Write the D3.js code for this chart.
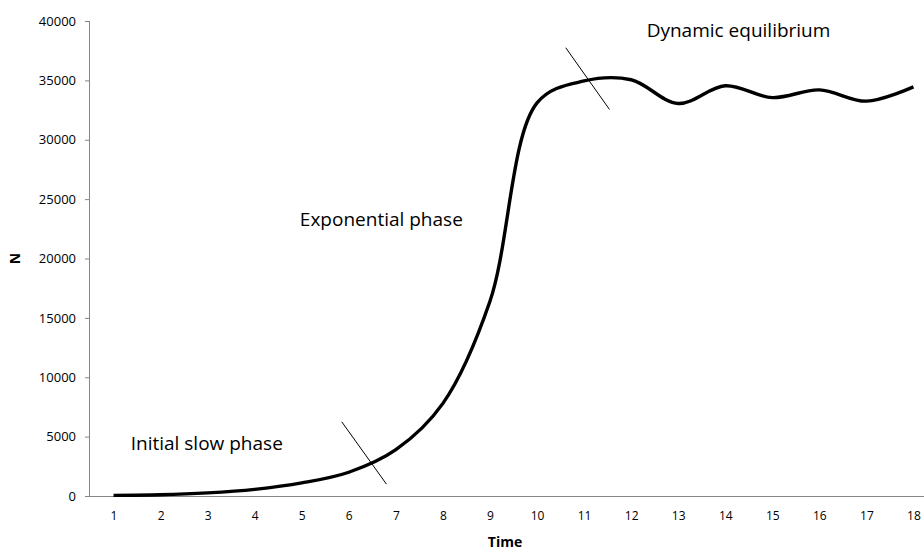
<!DOCTYPE html>
<html><head><meta charset="utf-8">
<script src="https://cdn.jsdelivr.net/npm/d3@7/dist/d3.min.js"></script>
<style>
html,body{margin:0;padding:0;background:#fff;}
svg{display:block;}
</style></head>
<body>
<svg id="chart" width="924" height="554"></svg>
<script>
const times = [1,2,3,4,5,6,7,8,9,10,11,12,13,14,15,16,17,18];
const nValues = [50,100,260,560,1100,2000,3900,7800,16400,33100,34950,35050,33050,34550,33550,34200,33250,34450];
const yTicks = [0,5000,10000,15000,20000,25000,30000,35000,40000];
const phaseLabels = [
  {text:"Initial slow phase", t:1.365, n:3870},
  {text:"Exponential phase", t:4.96, n:22740},
  {text:"Dynamic equilibrium", t:12.33, n:38650}
];
const dividers = [
  {t1:5.85, n1:6250, t2:6.80, n2:1000},
  {t1:10.61, n1:37750, t2:11.54, n2:32550}
];

const svg = d3.select("#chart");
const x = d3.scaleLinear().domain([0.5, 18.5]).range([90, 937]);
const y = d3.scaleLinear().domain([0, 40000]).range([496, 21]);
const axisColor = "#868686";

// Y axis
const yAxis = svg.append("g").attr("transform","translate(90,0)")
  .call(d3.axisLeft(y).tickValues(yTicks).tickSize(5).tickPadding(9).tickFormat(d3.format("d")));
yAxis.select(".domain").attr("stroke",axisColor).attr("d","M-0.5,"+y(40000)+"V"+y(0));
yAxis.selectAll(".tick line").attr("stroke",axisColor);
yAxis.selectAll(".tick text").attr("fill","#000").style("font-family","'Open Sans'").style("font-size","13px");

// X axis
const xAxis = svg.append("g").attr("transform","translate(0,496)")
  .call(d3.axisBottom(x).tickValues(times).tickSize(0).tickPadding(15).tickFormat(d3.format("d")));
xAxis.select(".domain").attr("stroke",axisColor).attr("d","M90,0.5H924");
xAxis.selectAll(".tick text").attr("fill","#000").style("font-family","'Open Sans'").style("font-size","12px");

// Axis titles
svg.append("text").attr("x",505).attr("y",547).attr("text-anchor","middle")
  .style("font-family","'Open Sans'").style("font-weight","bold").style("font-size","14px").text("Time");
svg.append("text").attr("transform","translate(15,"+y(20000)+") rotate(-90)").attr("text-anchor","middle")
  .attr("dy","0.35em")
  .style("font-family","'Open Sans'").style("font-weight","bold").style("font-size","14px").text("N");

// Curve
const line = d3.line().x((d,i)=>x(times[i])).y(d=>y(d)).curve(d3.curveCatmullRom.alpha(0.5));
svg.append("path").datum(nValues).attr("d",line).attr("fill","none")
  .attr("stroke","#000").attr("stroke-width",3.4).attr("stroke-linejoin","round").attr("stroke-linecap","butt");

// Divider lines
svg.selectAll("line.div").data(dividers).enter().append("line").attr("class","div")
  .attr("x1",d=>x(d.t1)).attr("y1",d=>y(d.n1)).attr("x2",d=>x(d.t2)).attr("y2",d=>y(d.n2))
  .attr("stroke","#000").attr("stroke-width",1);

// Phase labels
svg.selectAll("text.phase").data(phaseLabels).enter().append("text").attr("class","phase")
  .attr("x",d=>x(d.t)).attr("y",d=>y(d.n))
  .style("font-family","'Open Sans'").style("font-size","19px").attr("fill","#000").text(d=>d.text);
</script>
</body></html>
